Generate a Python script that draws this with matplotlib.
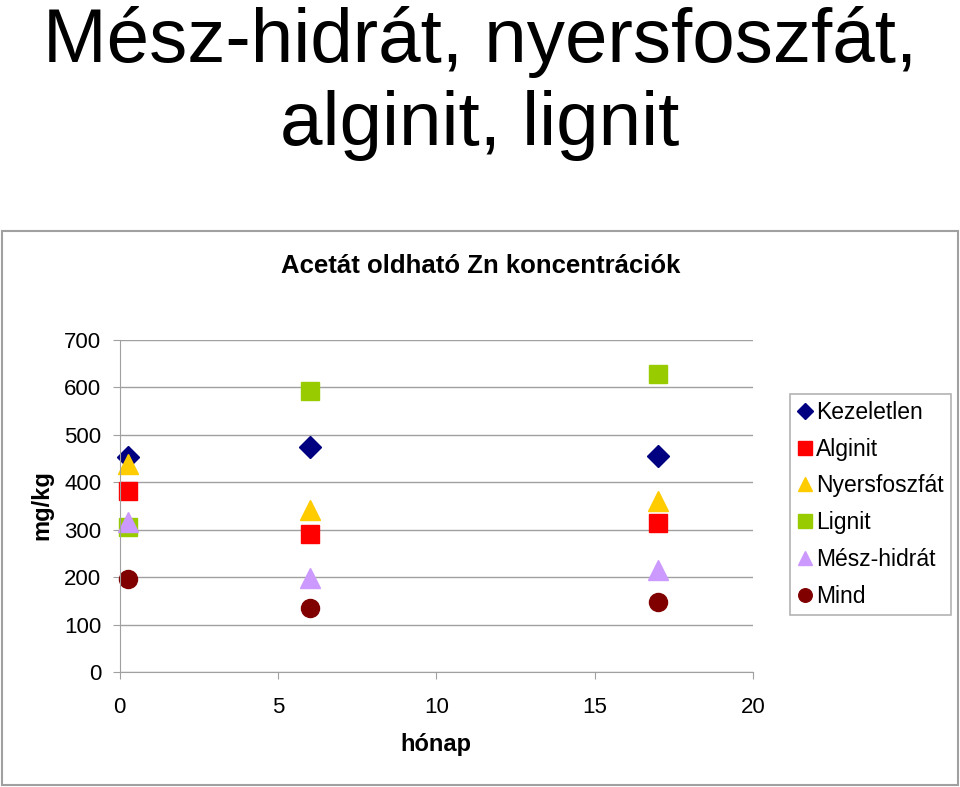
import matplotlib.pyplot as plt
from matplotlib.patches import Rectangle

plt.rcParams['font.family'] = ['Liberation Sans', 'DejaVu Sans']

# months of sampling
months = [0.27, 6, 17]

kezeletlen = [453, 474, 455]
alginit = [381, 291, 314]
nyersfoszfat = [438, 341, 360]
lignit = [306, 592, 628]
mesz_hidrat = [316, 198, 215]
mind = [196, 135, 148]

series = [
    ("Kezeletlen", kezeletlen, "D", "#000080", 11),
    ("Alginit", alginit, "s", "#FF0000", 12.5),
    ("Nyersfoszfát", nyersfoszfat, "^", "#FFCC00", 14),
    ("Lignit", lignit, "s", "#99CC00", 12.5),
    ("Mész-hidrát", mesz_hidrat, "^", "#CC99FF", 14),
    ("Mind", mind, "o", "#800000", 13),
]

W, H = 960, 787
fig = plt.figure(figsize=(W / 100, H / 100), dpi=100)

# outer chart frame
fig.patches.append(Rectangle((2 / W, 2 / H), 956 / W, 554 / H,
                             transform=fig.transFigure, fill=False,
                             edgecolor="#A0A0A0", linewidth=1.5))

fig.text(0.5, 1 - 62 / H, "Mész-hidrát, nyersfoszfát,", ha="center",
         va="baseline", fontsize=55)
fig.text(0.5, 1 - 145 / H, "alginit, lignit", ha="center", va="baseline",
         fontsize=55)
fig.text(481 / W, 1 - 266 / H, "Acetát oldható Zn koncentrációk",
         ha="center", va="center", fontsize=18.5, fontweight="bold")

ax = fig.add_axes([119.5 / W, 1 - 672 / H, 633.5 / W, 332 / H])
for name, vals, mk, col, ms in series:
    ax.plot(months, vals, linestyle="none", marker=mk, color=col,
            markersize=ms, label=name, clip_on=False)

ax.set_xlim(0, 20)
ax.set_ylim(0, 700)
ax.set_xticks([0, 5, 10, 15, 20])
ax.set_yticks(range(0, 701, 100))
ax.yaxis.grid(True, color="#A0A0A0", linewidth=1)
ax.set_axisbelow(True)
for s in ("top", "right"):
    ax.spines[s].set_visible(False)
for s in ("left", "bottom"):
    ax.spines[s].set_color("#A0A0A0")
ax.tick_params(colors="#A0A0A0", labelcolor="black", labelsize=16,
               length=5, direction="out")
ax.tick_params(axis="x", pad=13)
ax.tick_params(axis="y", pad=8)

ax.set_xlabel("hónap", fontsize=17, fontweight="bold")
ax.xaxis.set_label_coords(436 / W, 1 - 745 / H, transform=fig.transFigure)
ax.xaxis.label.set_va("center")
ax.set_ylabel("mg/kg", fontsize=17, fontweight="bold")
ax.yaxis.set_label_coords(42 / W, 1 - 505 / H, transform=fig.transFigure)
ax.yaxis.label.set_va("center")

leg = ax.legend(loc="upper left", bbox_to_anchor=(790 / W, 1 - 394 / H),
                bbox_transform=fig.transFigure, fontsize=16.5, frameon=True,
                fancybox=False, edgecolor="#A0A0A0", handlelength=0.7,
                handletextpad=0.15, borderpad=0.3, labelspacing=0.6,
                markerscale=0.75, borderaxespad=0)
leg.get_frame().set_linewidth(1.2)

fig.savefig("out.png", dpi=100)
